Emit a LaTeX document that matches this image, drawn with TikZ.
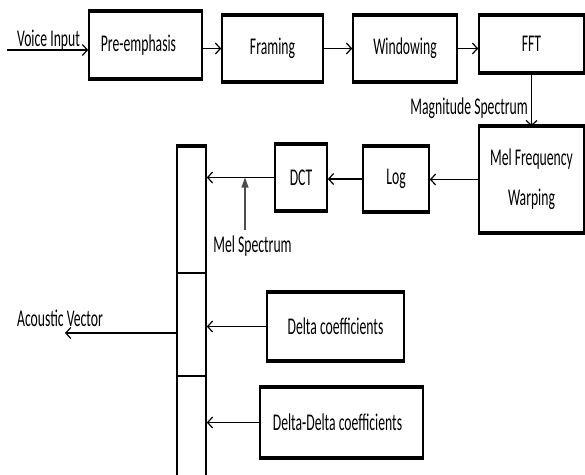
\documentclass[tikz,border=0pt]{standalone}
\usepackage{fontspec}
\setmainfont{Carlito}[FakeStretch=0.57]
\usetikzlibrary{arrows.meta}

\begin{document}
\begin{tikzpicture}[x=1pt, y=-1pt, >={Straight Barb[length=5pt,width=11pt]},
  font=\fontsize{24}{28}\selectfont,
  block/.style={draw, line width=1.6pt, inner sep=0pt, align=center},
  flow/.style={->, line width=1.2pt},
  lbl/.style={inner sep=0pt}]
  \useasboundingbox (0,0) rectangle (585,474);
  % top row
  \node[block, minimum width=113pt, minimum height=66pt] (pre) at (145.5,45) {Pre-emphasis\hspace*{14pt}};
  \node[block, minimum width=101pt, minimum height=65pt] (frm) at (272.5,48.5) {Framing};
  \node[block, minimum width=104pt, minimum height=65pt] (win) at (405,48.5) {Windowing};
  \node[block, minimum width=105pt, minimum height=56pt] (fft) at (531.5,44) {FFT};
  % second row
  \node[block, minimum width=105pt, minimum height=105pt] (mel) at (531.5,179.5) {Mel Frequency\\[12pt]Warping};
  \node[block, minimum width=66pt, minimum height=64pt] (log) at (396,179) {Log};
  \node[block, minimum width=52pt, minimum height=65pt] (dct) at (301,177.5) {DCT};
  % acoustic vector bar
  \node[block, minimum width=29pt, minimum height=126pt] (vec1) at (191.5,210) {};
  \node[block, minimum width=29pt, minimum height=103pt] (vec2) at (191.5,324.5) {};
  \node[block, minimum width=29pt, minimum height=100pt] (vec3) at (191.5,426) {};
  \node[block, minimum width=137pt, minimum height=67pt] (delta) at (335.5,326.5) {Delta coefficients};
  \node[block, minimum width=163pt, minimum height=69pt] (ddelta) at (341.5,422.5) {Delta-Delta coefficients\hspace*{8pt}};
  \foreach \b in {pre,frm,win,fft,mel,log,dct,delta,ddelta}
    \draw[line width=3.5pt] (\b.north west) -- (\b.north east) (\b.south west) -- (\b.south east);
  \draw[line width=3.5pt] (vec1.north west) -- (vec1.north east);

  % connectors
  \coordinate (vin) at (7,50);
  \draw[flow] (vin) -- (vin -| pre.west);
  \node[lbl] (vinlbl) at (48.5,40) {Voice Input};
  \draw[flow] (frm.west -| pre.east) -- (frm.west);
  \draw[flow] (frm) -- (win);
  \draw[flow] (win.east) -- (win.east -| fft.west);
  \draw[flow] (fft) -- (mel);
  \node[lbl, anchor=east] (maglbl) at (528,108) {Magnitude Spectrum};
  \draw[flow] (mel.west) -- (mel.west -| log.east);
  \draw[flow] (log.west) -- (log.west -| dct.east);
  \draw[flow] (dct.west) -- (dct.west -| vec1.east);
  \coordinate (ms) at (245,230);
  \draw[-{Triangle[length=10pt,width=7pt]}, line width=1.2pt, black!70] (ms) -- (ms |- dct.west);
  \node[lbl] (mslbl) at (252.5,246) {Mel Spectrum};
  \coordinate (av) at (65,333);
  \draw[flow] (av -| vec2.west) -- (av);
  \node[lbl] (avlbl) at (60,318) {Acoustic Vector};
  \draw[flow] (delta.west) -- (delta.west -| vec2.east);
  \draw[flow] (ddelta.west) -- (ddelta.west -| vec3.east);
\end{tikzpicture}
\end{document}
